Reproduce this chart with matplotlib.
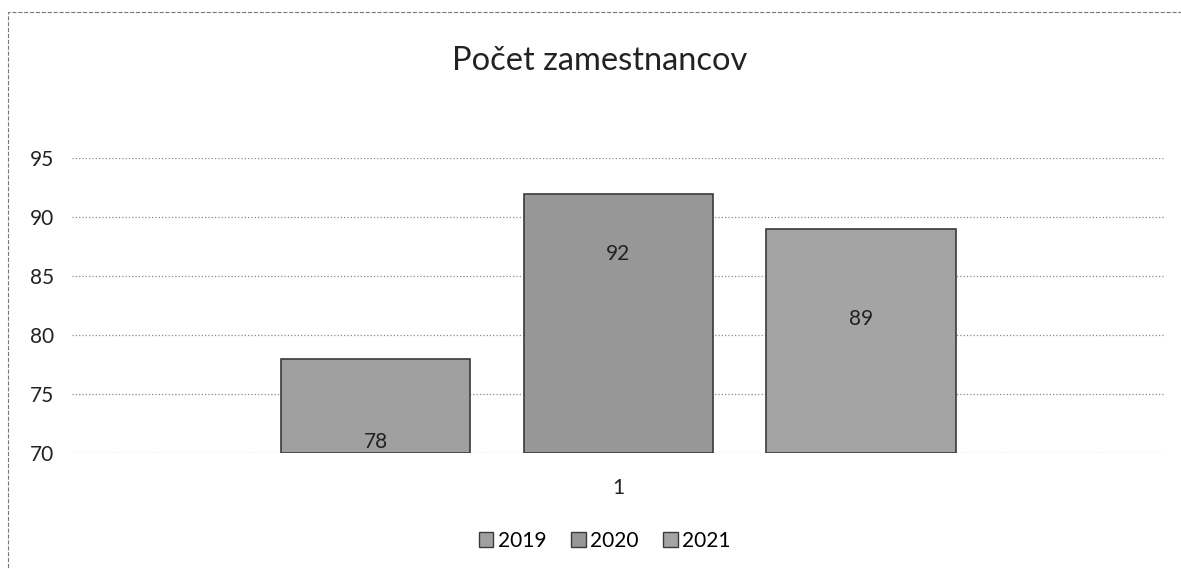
import numpy as np
import matplotlib.pyplot as plt
from matplotlib.patches import Rectangle

years = ['2019', '2020', '2021']
counts = [78, 92, 89]
yticks = [70, 75, 80, 85, 90, 95]

plt.rcParams['font.family'] = ['Lato', 'DejaVu Sans']

fig = plt.figure(figsize=(11.81, 5.69), dpi=100)
ax = fig.add_axes([0.061, 0.204, 0.925, 0.518])

x = np.arange(len(years)) - 1
colors = ['#a0a0a0', '#979797', '#a4a4a4']
bars = ax.bar(x, np.array(counts) - 70, bottom=70, width=0.78,
              color=colors, edgecolor='#3a3a3a', linewidth=1.2,
              label=years, zorder=3)

# label placement (Excel put them oddly)
label_y = [70.9, 86.9, 81.4]
for xi, v, ly in zip(x, counts, label_y):
    ax.text(xi, ly, str(v), ha='center', va='center', fontsize=15,
            color='#222222', zorder=4)

ax.set_xlim(-2.25, 2.25)
ax.set_ylim(70, 95)
ax.set_yticks(yticks)
ax.set_yticklabels([str(t) for t in yticks], fontsize=15, color='#222222')
ax.set_xticks([0])
ax.set_xticklabels(['1'], fontsize=15, color='#222222')
ax.tick_params(axis='both', length=0)
ax.tick_params(axis='y', pad=13)
ax.tick_params(axis='x', pad=18)
ax.grid(axis='y', color='#8a8a8a', linestyle=':', linewidth=0.9, zorder=0)
for s in ax.spines.values():
    s.set_visible(False)

# title is centred on the whole chart area, not the plot area
fig.text(0.508, 0.877, 'Počet zamestnancov', ha='center', va='baseline',
         fontsize=23.5, color='#222222')

handles = [Rectangle((0, 0), 1, 1, facecolor=c, edgecolor='#3a3a3a') for c in colors]
fig.legend(handles, years, loc='center', bbox_to_anchor=(0.512, 0.05), ncol=3,
           frameon=False, fontsize=15, handlelength=0.7, handleheight=0.7,
           handletextpad=0.2, columnspacing=1.2)

fig.patches.append(Rectangle((0.007, -0.02), 1.0, 0.999, transform=fig.transFigure,
                             fill=False, edgecolor='#777777', linestyle='--',
                             linewidth=0.8))

fig.savefig('out.png', dpi=100)
